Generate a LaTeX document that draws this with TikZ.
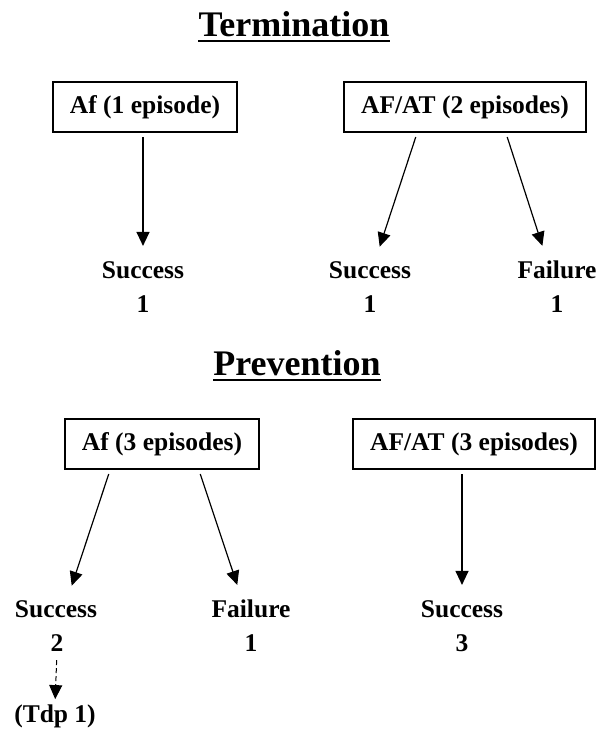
\documentclass[tikz,border=0pt]{standalone}
\usepackage{fontspec}
\setmainfont{Liberation Serif}
\usetikzlibrary{arrows.meta}

\tikzset{
    episodes/.style={draw, line width=2.5pt, inner xsep=17pt, minimum height=50pt,
        font=\bfseries\fontsize{25.5}{30}\selectfont},
    outcome/.style={anchor=base, inner sep=0pt, font=\bfseries\fontsize{25.5}{30}\selectfont},
    heading/.style={anchor=base, inner sep=0pt, font=\bfseries\fontsize{36}{42}\selectfont},
    arr/.style={line width=1.2pt, -{Triangle[width=13pt,length=14pt]},
        shorten <=4pt, shorten >=15pt},
}

\begin{document}
\begin{tikzpicture}[x=1pt, y=-1pt]

    \useasboundingbox (0,0) rectangle (603,729);

    % Make the headings
    \node[heading] (term) at (294,36) {Termination};
    \node[heading] (prev) at (297,375) {Prevention};
    \draw[line width=2pt] ([yshift=-5pt]term.base west) -- ([yshift=-5pt]term.base east);
    \draw[line width=2pt] ([yshift=-5pt]prev.base west) -- ([yshift=-5pt]prev.base east);

    % Termination
    \node[episodes] (afone) at (145,107) {Af (1 episode)};
    \node[episodes] (aftwo) at (465,107) {AF/AT (2 episodes)};

    \node[outcome] (succa) at (143,278) {Success};
    \node[outcome] (numa) at (143,312) {1};
    \node[outcome] (succb) at (370,278) {Success};
    \node[outcome] (numb) at (370,312) {1};
    \node[outcome] (failb) at (557,278) {Failure};
    \node[outcome] (numc) at (557,312) {1};

    \draw[arr] (succa.north |- afone.south) -- (succa.north);
    \draw[arr] ([xshift=-48pt]aftwo.south) -- ([xshift=5pt]succb.north);
    \draw[arr] ([xshift=41pt]aftwo.south) -- ([xshift=-10pt]failb.north);

    % Prevention
    \node[episodes] (afthree) at (162,444) {Af (3 episodes)};
    \node[episodes] (atthree) at (474,444) {AF/AT (3 episodes)};

    \node[outcome] (succc) at (56,617) {Success};
    \node[outcome] (numd) at (57,651) {2};
    \node[outcome] (failc) at (251,617) {Failure};
    \node[outcome] (nume) at (251,651) {1};
    \node[outcome] (succd) at (462,617) {Success};
    \node[outcome] (numf) at (462,651) {3};
    \node[outcome] (tdp) at (55,722) {(Tdp 1)};

    \draw[arr] ([xshift=-52pt]afthree.south) -- ([xshift=11pt]succc.north);
    \draw[arr] ([xshift=37pt]afthree.south) -- ([xshift=-9pt]failc.north);
    \draw[arr] (succd.north |- atthree.south) -- (succd.north);

    % Tdp follows one success
    \draw[arr, line width=1pt, dash pattern=on 5pt off 3pt, shorten <=9pt, shorten >=5pt]
        (numd.south) -- (tdp.north);

\end{tikzpicture}
\end{document}
